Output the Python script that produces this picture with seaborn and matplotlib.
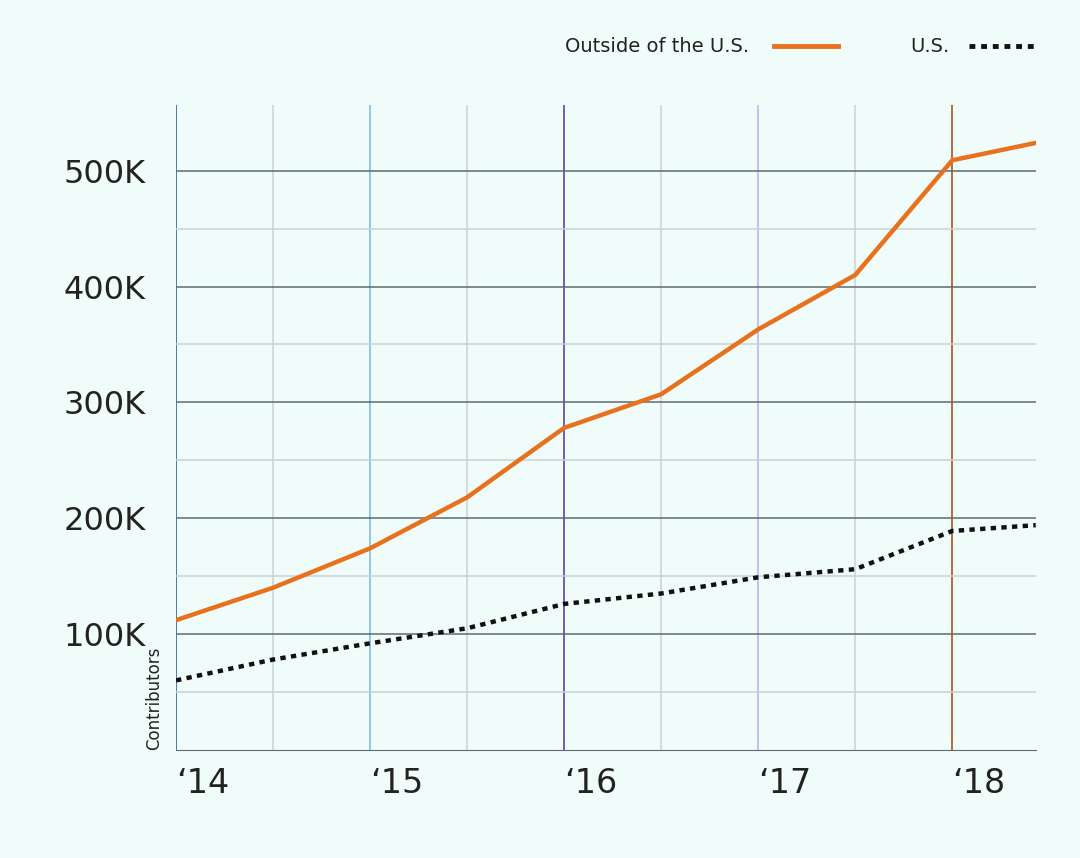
import matplotlib
matplotlib.use("Agg")
import matplotlib.pyplot as plt
from matplotlib.lines import Line2D
import seaborn as sns
import pandas as pd

# ── DATA ─────────────────────────────────────────
years = [2014.0, 2014.5, 2015.0, 2015.5, 2016.0, 2016.5, 2017.0, 2017.5, 2018.0, 2018.43]
outside_us = [112, 140, 174, 218, 278, 307, 363, 410, 509, 524]
us = [60, 78, 92, 105, 126, 135, 149, 156, 189, 194]
x_ticks = [2014, 2015, 2016, 2017, 2018]
x_labels = ["\u201814", "\u201815", "\u201816", "\u201817", "\u201818"]
y_ticks = [100, 200, 300, 400, 500]
y_labels = ["100K", "200K", "300K", "400K", "500K"]

BG = "#effcf9"
df = pd.DataFrame({"year": years, "outside": outside_us, "us": us})

fig = plt.figure(figsize=(10.8, 8.58), dpi=100, facecolor=BG)
ax = fig.add_axes([0.163, 0.126, 0.796, 0.752])
ax.set_facecolor(BG)

# vertical year lines
vcolors = {2014.0: "#3d6fa8", 2014.5: "#cfd8dc", 2015.0: "#8ec2e6", 2015.5: "#cfd8dc",
           2016.0: "#6a4fb3", 2016.5: "#cfd8dc", 2017.0: "#c7b8ec", 2017.5: "#cfd8dc",
           2018.0: "#b0602a"}
for xv, c in vcolors.items():
    ax.axvline(xv, color=c, lw=1.3, zorder=1)
# horizontal grid
for yv in range(50, 501, 50):
    ax.axhline(yv, color="#5e6b73" if yv % 100 == 0 else "#c8d0d4", lw=1.1, zorder=1)

sns.lineplot(data=df, x="year", y="outside", ax=ax, color="#e8711e", lw=3.2, zorder=3)
sns.lineplot(data=df, x="year", y="us", ax=ax, color="#111111", lw=3.2,
             linestyle=(0, (1.2, 1.2)), zorder=3)

ax.set_xlim(2014, 2018.43)
ax.set_ylim(0, 557)
ax.set_xticks(x_ticks)
ax.set_xticklabels(x_labels, fontsize=24, color="#222222")
ax.set_yticks(y_ticks)
ax.set_yticklabels(y_labels, fontsize=23, color="#222222")
ax.tick_params(axis="x", length=0, pad=12)
ax.tick_params(axis="y", length=0, pad=22)
for lab in ax.get_xticklabels():
    lab.set_horizontalalignment("left")
for s in ["top", "right", "left"]:
    ax.spines[s].set_visible(False)
ax.spines["bottom"].set_color("#5e6b73")
ax.set_xlabel("")
ax.set_ylabel("")
fig.text(0.143, 0.126, "Contributors", rotation=90, fontsize=12, color="#222222",
         ha="center", va="bottom")

# legend
fig.text(0.694, 0.946, "Outside of the U.S.", fontsize=14, color="#222222", ha="right", va="center")
fig.add_artist(Line2D([0.717, 0.776], [0.946, 0.946], color="#e8711e", lw=3.5))
fig.text(0.879, 0.946, "U.S.", fontsize=14, color="#222222", ha="right", va="center")
fig.add_artist(Line2D([0.897, 0.957], [0.946, 0.946], color="#111111", lw=3.5,
                      linestyle=(0, (1.2, 1.2))))

fig.savefig("out.png", dpi=100, facecolor=BG)
